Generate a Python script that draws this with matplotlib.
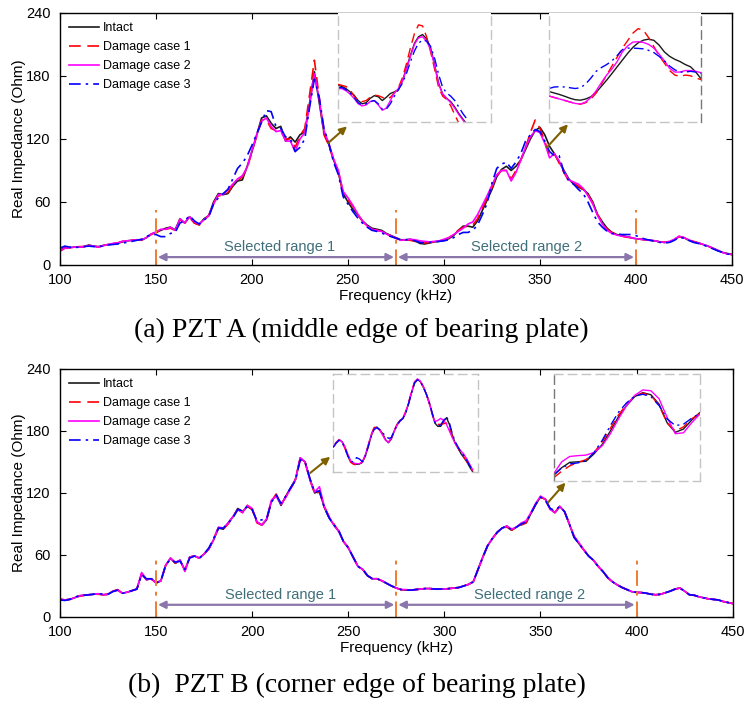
import numpy as np
import matplotlib
matplotlib.use('Agg')
import matplotlib.pyplot as plt

plt.rcParams['font.family'] = ['Liberation Sans', 'DejaVu Sans']

# frequency grid of the main curves (kHz)
FREQ = np.arange(100, 450.01, 2.5)

# ---- PZT A, real impedance (Ohm), one row = 25 kHz ----
A_INTACT = [
    14, 16.5, 16.5, 17, 17, 17.5, 19, 18, 17.5, 18.5,
    19.5, 20, 20.5, 22, 23, 23.5, 24, 23.5, 26, 29.5,
    31, 33, 35, 36, 33.5, 44, 40, 46, 40, 38.5,
    44, 47, 60, 68, 67, 68, 75, 80, 81, 94,
    108, 124, 140, 142, 135, 130, 132, 118, 122, 117,
    124, 127, 154, 184, 155, 126, 115, 100, 88, 68,
    60, 53, 48, 42, 38, 35, 34, 33, 30, 28,
    26, 24, 24, 24.5, 23, 20.5, 20, 21, 22, 22.5,
    23.5, 25, 28, 33, 37, 37, 36, 42, 52, 62,
    72, 84, 91, 94, 90, 94, 100, 110, 120, 128,
    131, 124, 113, 106, 98, 90, 82, 77, 74, 72,
    68, 60, 48, 41, 35, 31, 29, 28, 27, 26,
    25, 24.5, 24, 23.5, 23, 22, 21.5, 22, 24, 27,
    26, 23.5, 22, 21, 19.5, 18, 16, 14, 12, 11,
    10]
A_DC1 = [
    13, 16, 16.5, 17, 17.5, 17.5, 18.5, 18, 17, 18.5,
    19.5, 20.5, 21, 22.5, 23, 23.5, 24, 24, 26, 29,
    31, 33, 34, 35, 33, 43, 40, 45, 40, 38,
    43, 47, 59, 66, 66, 69, 76, 80, 84, 92,
    108, 123, 138, 138, 130, 128, 127, 120, 120, 112,
    123, 130, 162, 195, 160, 124, 114, 100, 89, 68,
    62, 56, 48, 42, 37, 34, 33, 32, 29.5, 27.5,
    25.5, 23.5, 24, 23.5, 22.5, 21, 21, 21.5, 22, 23,
    24, 26, 29, 33, 36, 37, 38, 44, 54, 64,
    74, 85, 90, 90, 82, 90, 100, 112, 126, 138,
    130, 118, 104, 106, 97, 88, 80, 78, 75, 72,
    67, 59, 48, 40, 34, 31, 29, 27.5, 26.5, 26,
    25, 24.5, 24, 23.5, 22.5, 22, 21.5, 22.5, 24.5, 27,
    26, 24, 22.5, 21, 19.5, 18, 16, 14, 12, 10.5,
    10]
A_DC2 = [
    13.5, 16, 16.5, 17, 17, 17.5, 18.5, 18, 17, 18.5,
    19.5, 20.5, 21, 22.5, 23, 23.5, 24, 24, 26, 29.5,
    31.5, 34, 34, 36, 33, 44, 40, 46, 41, 39,
    43, 47, 58, 67, 67, 72, 77, 82, 85, 93,
    109, 124, 137, 140, 132, 127, 128, 118, 118, 108,
    120, 126, 152, 182, 158, 128, 116, 101, 90, 70,
    64, 57, 49, 42, 37, 34, 33, 32, 29.5, 27.5,
    25.5, 23.5, 24, 24.5, 24, 23, 22.5, 22, 22.5, 23,
    24.5, 26, 29, 32, 35, 39, 41, 48, 57, 66,
    76, 86, 90, 90, 80, 88, 100, 112, 122, 128,
    126, 116, 102, 106, 99, 89, 81, 79, 77, 73,
    66, 58, 47, 39, 33, 30, 28.5, 27.5, 27, 26,
    25, 24.5, 24, 23.5, 23, 22, 21.5, 22.5, 24.5, 27.5,
    26, 24, 22, 21, 19.5, 18, 16, 14, 12, 10.5,
    10]
A_DC3 = [
    16, 18, 17, 16.5, 17, 17.5, 18, 17.5, 17.5, 18,
    19, 19.5, 20, 21, 21.5, 22.5, 23.5, 24.5, 27, 29,
    29, 27, 27, 30, 31, 40, 42, 47, 42, 39,
    43, 46, 58, 64, 68, 72, 82, 92, 97, 104,
    114, 125, 136, 147, 146, 132, 130, 122, 120, 108,
    112, 120, 150, 177, 160, 130, 116, 98, 86, 65,
    58, 51, 45, 40, 36, 33, 32, 30.5, 28.5, 27,
    25.5, 24, 24, 24, 23, 21.5, 21, 21.5, 22, 22.5,
    23, 24, 26, 29, 31, 31, 33, 38, 48, 59,
    78, 92, 96, 98, 92, 98, 106, 118, 124, 129,
    127, 118, 108, 104, 104, 88, 80, 77, 72, 68,
    60, 50, 41, 36, 32, 30, 29.5, 29, 29, 29,
    28, 26, 24.5, 23.5, 22.5, 21.5, 21, 21.5, 23.5, 26.5,
    25.5, 23.5, 21.5, 20.5, 19, 17.5, 15.5, 13.5, 12, 10.5,
    10]

# ---- PZT B ----
B_INTACT = [
    17, 16.5, 17, 18.5, 20.5, 21, 21.5, 22, 22.5, 21.5,
    22, 25, 26, 23, 24, 25.5, 27, 42, 36, 37,
    33, 35, 50, 57, 52, 55, 45, 58, 59, 57,
    61, 66, 75, 86, 85, 91, 97, 105, 102, 107,
    104, 92, 89, 94, 112, 118, 108, 117, 125, 133,
    154, 150, 134, 120, 122, 106, 96, 89, 83, 73,
    67, 58, 49, 46, 40, 37, 37, 35, 32.5, 30,
    28, 26.5, 26, 26, 26.5, 27, 27.5, 27.5, 27, 27,
    27, 27.5, 28, 28.5, 30, 31.5, 34, 46, 58, 69,
    76, 82, 86, 88, 84, 87, 90, 91, 100, 109,
    116, 114, 105, 101, 107, 102, 90, 77, 71, 65,
    59, 55, 49, 44, 38, 34, 31, 28.5, 26.5, 24.5,
    23.8, 23.6, 23, 22, 21.5, 22, 23.5, 25, 27, 28,
    25, 21.5, 21, 19.5, 18.5, 17.5, 17, 16.5, 15, 14,
    13]
B_DC1 = [
    17.5, 16.5, 17, 18.5, 20, 21, 21.5, 22, 22, 21.5,
    22, 25, 26.5, 23, 24, 25.5, 27, 42, 36, 37,
    33, 35, 50, 57, 52, 55, 45, 58, 59, 57,
    61, 66, 76, 87, 85, 90, 97, 104, 101, 108,
    104, 91, 89, 94, 112, 119, 109, 116, 124, 133,
    153, 150, 133, 119, 121, 107, 97, 90, 83, 73,
    67, 58, 49, 46, 40, 37, 37, 35, 32.5, 30,
    28, 26.5, 26, 26, 26.5, 27, 27.5, 27.5, 27, 27,
    27, 27.5, 28, 28.5, 30, 31.5, 34, 46, 58, 69,
    76, 82, 86, 87, 84, 87, 89, 91, 100, 109,
    116, 114, 104, 101, 107, 102, 90, 78, 71, 65,
    59, 55, 49, 44, 38, 34, 31, 28.5, 26.5, 24.5,
    23.8, 23.6, 23, 22, 21.5, 22, 23.5, 25, 27, 28,
    25, 21.5, 21, 19.5, 18.5, 17.5, 17, 16.5, 15, 14,
    13]
B_DC2 = [
    17, 16.5, 17, 18.5, 20.5, 21, 21.5, 22, 22.5, 21.5,
    22, 25, 26, 23, 24, 25.5, 27, 43, 36, 37,
    33, 35, 50, 57, 53, 55, 44, 58, 59, 57,
    61, 66, 75, 87, 86, 91, 97, 104, 101, 108,
    105, 92, 89, 95, 113, 117, 109, 116, 124, 133,
    154, 150, 133, 121, 126, 107, 97, 89, 83, 73,
    67, 58, 49, 46, 40, 37, 37, 35, 32.5, 30,
    28, 26.5, 26.5, 26, 26.5, 27, 27.5, 27.5, 27, 27,
    27, 27.5, 28, 28.5, 30, 31.5, 34, 46, 58, 69,
    76, 82, 86, 88, 85, 87, 91, 93, 101, 110,
    117, 114, 104, 101, 107, 102, 90, 78, 72, 65,
    59, 55, 49, 44, 38, 34, 31, 28.5, 26.5, 24.5,
    23.8, 23.6, 23, 22, 21.5, 22, 23.5, 25, 27, 28,
    25, 21.5, 21, 19.5, 18.5, 17.5, 17, 16.5, 15, 14,
    13]
B_DC3 = [
    16.5, 16, 17, 19, 20.5, 21, 21.5, 22, 22.5, 22,
    22, 24.5, 26, 23, 24, 25.5, 27, 41, 37, 37,
    33, 35, 50, 56, 53, 54, 46, 57, 59, 57,
    61, 67, 76, 86, 86, 91, 96, 104, 103, 107,
    104, 93, 94, 95, 111, 118, 110, 117, 125, 132,
    152, 150, 134, 121, 122, 106, 96, 89, 84, 73,
    67, 58, 49, 46, 40, 37, 37, 35, 32.5, 30,
    28, 26.5, 26, 26, 26.5, 27, 27.5, 27.5, 27, 27,
    27, 27.5, 28, 28.5, 30, 31.5, 34, 46, 58, 69,
    76, 82, 86, 88, 84, 87, 90, 92, 100, 109,
    116, 113, 105, 103, 107, 102, 90, 77, 71, 65,
    59, 55, 49, 44, 38, 34, 31, 28.5, 26.5, 24.5,
    23.8, 23.6, 23, 22, 21.5, 22, 23.5, 25, 27, 28,
    25, 21.5, 21, 19.5, 18.5, 17.5, 17, 16.5, 15, 14,
    13]

# ---- zoomed details shown in the insets (1 kHz steps) ----
A1_FREQ = np.arange(213, 245.01, 1.0)
A1_INTACT = [135, 134, 132, 129, 126, 121, 118, 119, 123, 125.5, 124.5, 121, 124, 127.5, 129, 131, 139,
             151, 163, 174, 180, 182, 178, 170, 154, 137, 127, 123, 120, 115, 109, 104, 99]
A1_DC1 = [136, 135, 134, 131, 125, 121, 120, 121, 124, 126, 125.5, 124, 122, 124, 128, 133, 142,
          155, 170, 183, 191, 190, 180, 166, 150, 133, 125, 122, 116, 108, 100, 94, 89]
A1_DC2 = [132, 132, 130, 127, 123, 118, 116, 117, 120, 121, 117, 112, 114, 121, 128, 132, 139,
          150, 162, 173, 179, 180, 176, 168, 153, 136, 127, 123, 119, 114, 108, 103, 98]
A1_DC3 = [133, 133, 131, 128, 124, 119, 117, 118, 120, 121, 118, 113, 113, 118, 125, 131, 137,
          146, 157, 167, 174, 177, 176, 171, 160, 145, 133, 128, 125, 121, 115, 109, 104]

A2_FREQ = np.arange(330, 359.01, 1.0)
A2_INTACT = [96, 95, 94, 92.8, 91.5, 90.5, 90.2, 91, 92.5, 95.5, 99.5, 103.6, 108, 112.5, 117,
             121.5, 125.5, 128.5, 130.3, 131, 130.2, 127, 122.5, 119.5, 117.5, 116, 114, 112.5, 109, 104.5]
A2_DC1 = [93, 92, 91, 90, 89, 88, 87.5, 88.5, 91, 95, 101, 107, 113, 119, 125,
          130, 135, 138, 137, 132, 126, 120, 115, 110, 107, 106, 107, 106.5, 105, 104]
A2_DC2 = [93, 92, 91, 90, 89, 88, 87.6, 89, 92, 96.5, 102, 107, 111, 116, 122.5,
          126.5, 129, 129.3, 128.8, 127.5, 125, 121, 116.5, 111.5, 109, 109, 110, 110, 109.5, 108.5]
A2_DC3 = [98, 99, 99.2, 99, 98.5, 98, 98.5, 101, 105, 109.5, 112, 114, 116.5, 120, 124,
          125, 125, 124.8, 124.5, 123.5, 122, 119.5, 116.5, 113, 110.5, 109, 109, 109.5, 109, 108]

B1_FREQ = np.arange(197, 245.01, 1.0)
B1_INTACT = [104, 107, 109.5, 108, 104, 98, 93, 91.5, 91, 91.2, 92.5, 97, 104, 112, 117.5, 119, 117,
             114, 109.5, 107.2, 110, 116, 121, 124, 125.5, 130, 137, 145, 152, 154.7, 153, 149, 144,
             138, 130, 122, 119.5, 119.5, 123, 126, 121, 113, 107, 103, 99, 96, 93, 89, 85.5]
B1_DC1 = [104.5, 107.5, 109.5, 107.5, 103, 97, 92.5, 91, 90.5, 91, 92.5, 97.5, 105, 113, 118.5, 119.5, 117,
          113.5, 109, 107.5, 111, 116.5, 121, 124, 126, 131, 138, 146, 153, 155, 153.5, 149.5, 144,
          137, 129, 122.5, 121, 121, 121.5, 122, 118, 112, 107, 103, 99.5, 96.5, 93, 89.5, 86]
B1_DC2 = [104, 107, 109.5, 108, 104, 98.5, 93.5, 92, 91.5, 91.5, 93, 98, 105, 112.5, 117.5, 118.5, 116.5,
          113, 109, 107.5, 110.5, 116, 120.5, 123.5, 125.5, 130.5, 137.5, 145.5, 152.5, 155.2, 153.5, 149.5, 144,
          137.5, 129.5, 123, 124, 125.5, 124, 121, 116, 111, 106.5, 103.5, 101, 98.5, 95, 91, 87]
B1_DC3 = [104, 107, 109, 107.5, 103.5, 97, 93, 93, 96, 95, 93, 97, 104, 111.5, 117, 118.5, 117,
          114.5, 112.5, 110.5, 111, 116, 120.5, 123.5, 125.5, 130, 137, 145, 152, 154.5, 153, 149, 144,
          138, 130, 122.5, 120, 120.5, 124, 127, 122, 114, 108, 104, 100, 97.5, 94, 90, 86.5]

B2_FREQ = np.arange(340, 358.01, 1.0)
B2_INTACT = [87, 89.8, 91.8, 92, 92.2, 95, 98.5, 103.5, 108.8, 113, 116.3, 117.8, 117, 113.5, 106.5, 103, 104.2, 107.5, 110.3]
B2_DC1 = [86, 88.5, 90.5, 91.8, 92.8, 95.5, 99.5, 104.5, 109.5, 113.5, 116.5, 117.6, 116.8, 113, 106.5, 103.5, 105, 108, 110]
B2_DC2 = [87.5, 92, 94, 94.3, 94.5, 95.5, 98, 102.5, 108, 113, 116.8, 118.8, 118.5, 115.5, 108.5, 102.5, 102.8, 106.5, 109.7]
B2_DC3 = [87, 89.7, 91.2, 91.6, 92.5, 95.5, 100, 105.5, 110.5, 114, 116.5, 117.2, 116.3, 113, 108, 105.5, 106, 108.2, 110]

LABELS = ['Intact', 'Damage case 1', 'Damage case 2', 'Damage case 3']
COLORS = ['#1a1a1a', '#ff0000', '#ff00ff', '#0000ff']
STYLES = ['-', (0, (7, 4)), '-', (0, (7, 3, 1.5, 3))]

RANGE_EDGES = [150, 275, 400]
RANGE_TEXT = ['Selected range 1', 'Selected range 2']
CAPTIONS = ['(a) PZT A (middle edge of bearing plate)',
            '(b)  PZT B (corner edge of bearing plate)']


def add_inset(ax, bounds, freq, curves, xlim, ylim, top_visible, dark_side=None):
    ins = ax.inset_axes(bounds, transform=ax.transData)
    for y, c, ls in zip(curves, COLORS, STYLES):
        ins.plot(freq, y, color=c, ls=ls, lw=1.0)
    ins.set_xlim(xlim)
    ins.set_ylim(ylim)
    ins.set_xticks([])
    ins.set_yticks([])
    for side, sp in ins.spines.items():
        sp.set_linestyle((0, (6, 4)))
        sp.set_linewidth(1.0)
        sp.set_color('#777777' if side == dark_side else '#c4c4c4')
    ins.spines['top'].set_visible(top_visible)
    return ins


def draw_panel(ax, curves, edge_top, arrow_y, text_y, text_x):
    for y, c, ls, lab in zip(curves, COLORS, STYLES, LABELS):
        ax.plot(FREQ, y, color=c, ls=ls, lw=1.2, label=lab)
    ax.set_xlim(100, 450)
    ax.set_ylim(0, 240)
    ax.set_xticks(range(100, 451, 50))
    ax.set_yticks(range(0, 241, 60))
    ax.tick_params(direction='in', top=True, right=True, length=4, labelsize=10.5)
    ax.tick_params(axis='x', pad=5.5)
    ax.tick_params(axis='y', pad=7)
    for sp in ax.spines.values():
        sp.set_linewidth(1.0)
    ax.set_xlabel('Frequency (kHz)', fontsize=11, labelpad=1.5)
    ax.set_ylabel('Real Impedance (Ohm)', fontsize=11, labelpad=0)

    for e in RANGE_EDGES:
        ax.plot([e, e], [0, edge_top], color='#ed7d31', ls=(0, (8, 3, 2, 3)), lw=1.4)
    for i in range(2):
        ax.annotate('', xy=(RANGE_EDGES[i] + 1, arrow_y), xytext=(RANGE_EDGES[i + 1] - 1, arrow_y),
                    arrowprops=dict(arrowstyle='<|-|>', color='#8a76aa', lw=1.6,
                                    mutation_scale=11, shrinkA=0, shrinkB=0))
        ax.text(text_x[i], text_y, RANGE_TEXT[i], color='#3f6f7b', fontsize=10.5,
                ha='center', va='center')

    ax.legend(loc='upper left', frameon=False, fontsize=9, handlelength=2.4,
              handletextpad=0.3, labelspacing=0.55, borderaxespad=0.35)


def arrow(ax, tail, head):
    ax.annotate('', xy=head, xytext=tail,
                arrowprops=dict(arrowstyle='-|>', color='#7f6000', lw=1.5,
                                mutation_scale=11, shrinkA=0, shrinkB=0))


fig = plt.figure(figsize=(7.45, 7.04), dpi=100)
ax_a = fig.add_axes([0.0805, 0.6236, 0.902, 0.358])
ax_b = fig.add_axes([0.0805, 0.1236, 0.903, 0.3523])

draw_panel(ax_a, [A_INTACT, A_DC1, A_DC2, A_DC3], 52, 7.5, 17.5, [214.6, 343.2])
add_inset(ax_a, [244.8, 136, 79.7, 104], A1_FREQ, [A1_INTACT, A1_DC1, A1_DC2, A1_DC3],
          (213, 251), (101, 202), False)
add_inset(ax_a, [354.7, 136, 79.2, 104], A2_FREQ, [A2_INTACT, A2_DC1, A2_DC2, A2_DC3],
          (330, 359), (75.5, 148.5), False, dark_side='right')
arrow(ax_a, (239.6, 116), (249.5, 132))
arrow(ax_a, (353.6, 112), (364.6, 134))

draw_panel(ax_b, [B_INTACT, B_DC1, B_DC2, B_DC3], 56, 11.8, 21, [215, 344.2])
add_inset(ax_b, [242.2, 140, 75.5, 95], B1_FREQ, [B1_INTACT, B1_DC1, B1_DC2, B1_DC3],
          (197, 247), (85, 158.7), True)
add_inset(ax_b, [356.8, 132, 76, 103], B2_FREQ, [B2_INTACT, B2_DC1, B2_DC2, B2_DC3],
          (340, 358), (85, 124.7), True, dark_side='left')
arrow(ax_b, (230.2, 139.4), (240.6, 155))
arrow(ax_b, (354, 111), (363, 130))

fig.text(361 / 745, 1 - 330 / 704, CAPTIONS[0], ha='center', va='center',
         family=['Liberation Serif', 'DejaVu Serif'], fontsize=20)
fig.text(357 / 745, 1 - 685 / 704, CAPTIONS[1], ha='center', va='center',
         family=['Liberation Serif', 'DejaVu Serif'], fontsize=20)

fig.savefig('out.png', dpi=100)
